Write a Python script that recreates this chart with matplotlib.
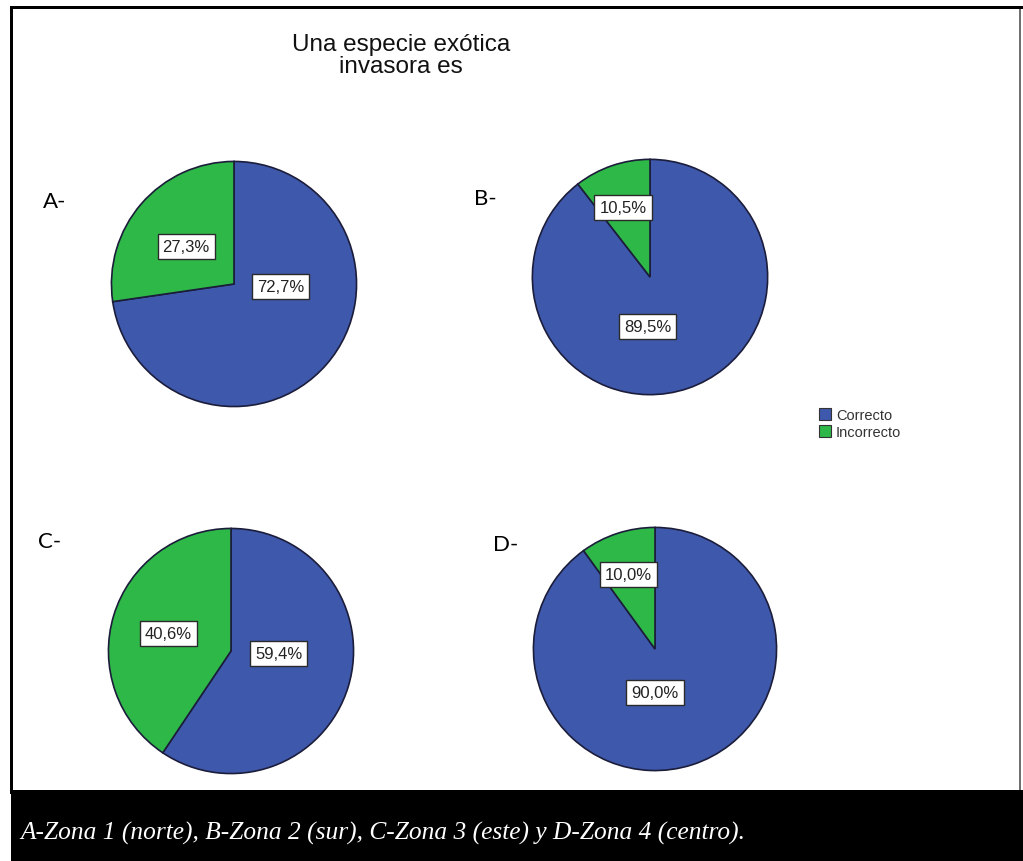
import matplotlib
matplotlib.use("Agg")
import matplotlib.pyplot as plt
from matplotlib.patches import Rectangle, Patch

W, H = 1023, 862

# percentages per zone
zones = ["A-", "B-", "C-", "D-"]
correcto = [72.7, 89.5, 59.4, 90.0]
incorrecto = [27.3, 10.5, 40.6, 10.0]
categories = ["Correcto", "Incorrecto"]
colors = ["#3e58ac", "#2eb848"]

title = "Una especie exótica\ninvasora es"
caption = "A-Zona 1 (norte), B-Zona 2 (sur), C-Zona 3 (este) y D-Zona 4 (centro)."

# pie placement in pixels: center x, center y (from top), radius
pie_pos = [(234, 285, 125), (650, 278, 120), (231, 652, 125), (655, 650, 124)]
zone_lbl_pos = [(55, 202), (485, 199), (50, 542), (506, 545)]
# label offsets as fraction of the radius (correcto, incorrecto)
lbl_off = [
    [(0.38, -0.02), (-0.39, 0.31)],
    [(-0.02, -0.42), (-0.23, 0.59)],
    [(0.39, -0.02), (-0.51, 0.14)],
    [(0.0, -0.36), (-0.22, 0.61)],
]


def fx(x):
    return x / W


def fy(y):
    return 1 - y / H


def fmt(v):
    return f"{v:.1f}%".replace(".", ",")


fig = plt.figure(figsize=(W / 100, H / 100), dpi=100)
fig.patch.set_facecolor("white")

for i in range(4):
    cx, cy, r = pie_pos[i]
    ax = fig.add_axes([fx(cx - r), fy(cy + r), 2 * r / W, 2 * r / H])
    vals = [correcto[i], incorrecto[i]]
    ax.pie(vals, colors=colors, startangle=90, counterclock=False, radius=1,
           wedgeprops=dict(edgecolor="#1b1d3a", linewidth=1.2))
    ax.set_xlim(-1.02, 1.02)
    ax.set_ylim(-1.02, 1.02)
    ax.set_aspect("equal")
    ax.axis("off")
    for v, (dx, dy) in zip(vals, lbl_off[i]):
        ax.text(dx, dy, fmt(v), ha="center", va="center", fontsize=12,
                family="Liberation Sans", color="#222222",
                bbox=dict(boxstyle="square,pad=0.3", fc="white",
                          ec="#2a2a2a", lw=1.0))
    zx, zy = zone_lbl_pos[i]
    fig.text(fx(zx), fy(zy), zones[i], ha="center", va="center",
             fontsize=16, family="Lato", color="#000000")

fig.text(fx(401), fy(56), title, ha="center", va="center", fontsize=17.5,
         family="Liberation Sans", color="#111111", linespacing=1.0)

handles = [Patch(facecolor=c, edgecolor="#333333", lw=0.8) for c in colors]
fig.legend(handles, categories, loc="upper left",
           bbox_to_anchor=(fx(819), fy(409)), frameon=False,
           handlelength=0.85, handleheight=0.85, handletextpad=0.3,
           labelspacing=0.2, borderpad=0, borderaxespad=0,
           prop=dict(family="Liberation Sans", size=10.5), labelcolor="#333333")

# frame around the chart and the caption band
fig.add_artist(Rectangle((fx(11), fy(10)), fx(1023) - fx(11), 3 / H,
                         transform=fig.transFigure, fc="black", ec="none"))
fig.add_artist(Rectangle((fx(10), fy(795)), 3 / W, 788 / H,
                         transform=fig.transFigure, fc="black", ec="none"))
fig.add_artist(Rectangle((fx(1019), fy(791)), 2 / W, 781 / H,
                         transform=fig.transFigure, fc="#707070", ec="none"))
fig.add_artist(Rectangle((fx(11), 0), 1 - fx(11), 71 / H,
                         transform=fig.transFigure, fc="black", ec="none"))

fig.text(fx(20), fy(833), caption, ha="left", va="center", fontsize=18.3,
         family="Liberation Serif", style="italic", color="white")

fig.savefig("out.png", dpi=100, facecolor="white")
